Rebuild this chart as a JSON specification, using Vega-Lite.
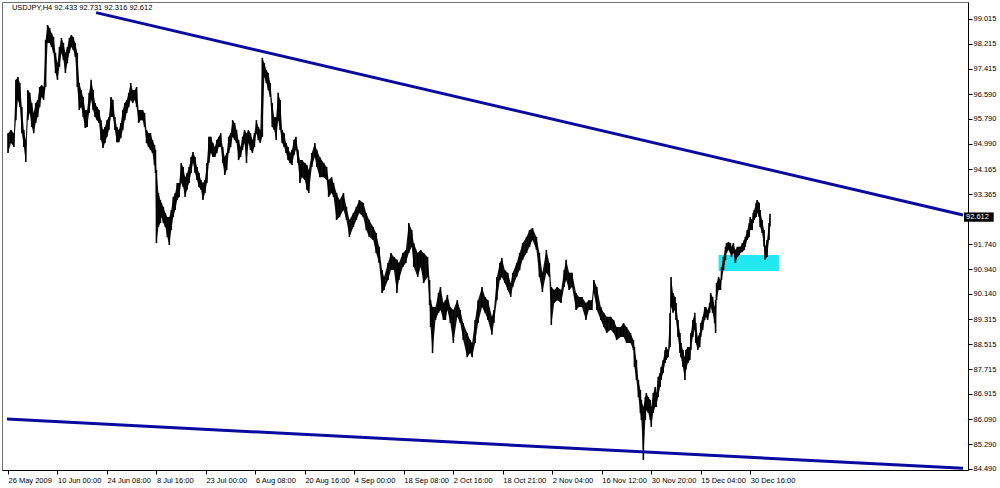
{
  "$schema": "https://vega.github.io/schema/vega-lite/v6.json",
  "width": 966,
  "height": 468,
  "autosize": {"type": "none"},
  "padding": {"left": 2, "top": 2, "right": 32, "bottom": 18},
  "background": "white",
  "config": {
    "view": {"stroke": "#707070", "strokeWidth": 1},
    "font": "Liberation Sans",
    "axis": {"labelFont": "Liberation Sans", "labelFontSize": 7.5, "labelColor": "#000000", "tickColor": "#000000", "domainColor": "#000000", "grid": false, "title": null, "labelOverlap": false, "labelFlush": false, "labelBound": false}
  },
  "datasets": {
    "bars": [
      {"t":3,"h":95.33,"l":94.69},{"t":6,"h":95.43,"l":95.01},{"t":9,"h":95.33,"l":94.88},{"t":11,"h":97.05,"l":95.75},{"t":13,"h":97.14,"l":96.40},{"t":15,"h":96.95,"l":96.17},{"t":17,"h":96.17,"l":95.33},{"t":19,"h":95.43,"l":94.88},{"t":21,"h":95.11,"l":94.40},{"t":23,"h":96.72,"l":95.75},{"t":25,"h":96.63,"l":95.98},{"t":27,"h":96.30,"l":95.53},{"t":29,"h":95.98,"l":95.33},{"t":31,"h":96.30,"l":95.66},{"t":33,"h":96.40,"l":95.85},{"t":35,"h":96.82,"l":96.17},{"t":37,"h":96.88,"l":96.50},{"t":39,"h":96.82,"l":96.40},{"t":41,"h":98.34,"l":96.82},{"t":43,"h":98.82,"l":98.24},{"t":45,"h":98.72,"l":98.24},{"t":47,"h":98.56,"l":98.11},{"t":49,"h":98.43,"l":97.92},{"t":51,"h":97.92,"l":97.27},{"t":53,"h":97.59,"l":97.05},{"t":55,"h":98.11,"l":97.47},{"t":57,"h":98.40,"l":97.92},{"t":59,"h":98.24,"l":97.69},{"t":61,"h":97.92,"l":97.27},{"t":63,"h":98.11,"l":97.59},{"t":65,"h":98.40,"l":97.92},{"t":67,"h":98.50,"l":98.11},{"t":69,"h":98.43,"l":98.01},{"t":71,"h":98.24,"l":97.79},{"t":73,"h":97.92,"l":96.82},{"t":75,"h":96.95,"l":96.08},{"t":77,"h":96.72,"l":96.17},{"t":79,"h":96.50,"l":95.85},{"t":81,"h":96.08,"l":95.50},{"t":83,"h":96.08,"l":95.53},{"t":85,"h":96.63,"l":95.98},{"t":87,"h":97.05,"l":96.40},{"t":89,"h":96.72,"l":96.08},{"t":91,"h":96.30,"l":95.85},{"t":93,"h":96.17,"l":95.75},{"t":95,"h":96.08,"l":95.66},{"t":97,"h":95.75,"l":95.11},{"t":99,"h":95.43,"l":94.85},{"t":101,"h":95.53,"l":95.01},{"t":103,"h":95.75,"l":95.21},{"t":105,"h":95.85,"l":95.43},{"t":107,"h":96.50,"l":95.85},{"t":109,"h":96.40,"l":95.85},{"t":111,"h":95.85,"l":95.43},{"t":113,"h":95.53,"l":95.04},{"t":115,"h":95.43,"l":95.04},{"t":117,"h":95.66,"l":95.17},{"t":119,"h":96.08,"l":95.43},{"t":121,"h":96.30,"l":95.75},{"t":123,"h":96.40,"l":95.98},{"t":125,"h":96.63,"l":96.17},{"t":127,"h":96.95,"l":96.40},{"t":129,"h":96.72,"l":96.30},{"t":131,"h":96.72,"l":96.40},{"t":133,"h":96.82,"l":96.17},{"t":135,"h":96.08,"l":95.66},{"t":137,"h":96.08,"l":95.75},{"t":139,"h":96.08,"l":95.75},{"t":141,"h":95.98,"l":95.53},{"t":143,"h":95.43,"l":95.01},{"t":145,"h":95.33,"l":94.88},{"t":147,"h":95.33,"l":94.79},{"t":149,"h":95.11,"l":94.69},
      {"t":151,"h":94.95,"l":94.30},{"t":152,"h":94.79,"l":94.04},{"t":153,"h":94.14,"l":91.78},{"t":155,"h":93.40,"l":92.30},{"t":157,"h":93.17,"l":92.43},{"t":158,"h":93.08,"l":92.62},{"t":160,"h":92.95,"l":92.43},{"t":162,"h":92.75,"l":92.30},{"t":164,"h":92.62,"l":91.98},{"t":166,"h":92.62,"l":91.72},{"t":168,"h":92.85,"l":92.20},{"t":170,"h":93.27,"l":92.62},{"t":172,"h":93.40,"l":92.85},{"t":174,"h":93.72,"l":93.17},{"t":176,"h":93.72,"l":93.27},{"t":178,"h":94.37,"l":93.72},{"t":180,"h":94.24,"l":93.59},{"t":182,"h":93.91,"l":93.27},{"t":184,"h":94.04,"l":93.50},{"t":186,"h":94.24,"l":93.72},{"t":188,"h":94.56,"l":94.04},{"t":190,"h":94.72,"l":94.37},{"t":192,"h":94.56,"l":94.04},{"t":194,"h":94.24,"l":93.82},{"t":196,"h":94.04,"l":93.59},{"t":198,"h":93.82,"l":93.50},{"t":200,"h":93.72,"l":93.17},{"t":202,"h":93.82,"l":93.40},{"t":204,"h":94.37,"l":93.72},{"t":206,"h":95.21,"l":94.37},{"t":208,"h":95.21,"l":94.69},{"t":210,"h":95.01,"l":94.56},{"t":212,"h":94.88,"l":94.56},{"t":214,"h":95.11,"l":94.69},{"t":216,"h":95.21,"l":94.88},{"t":218,"h":95.33,"l":94.88},{"t":220,"h":94.88,"l":94.37},{"t":222,"h":94.56,"l":93.98},{"t":224,"h":94.69,"l":94.14},{"t":226,"h":95.21,"l":94.69},{"t":228,"h":95.33,"l":94.88},{"t":230,"h":95.75,"l":95.21},{"t":232,"h":95.66,"l":95.11},{"t":234,"h":95.43,"l":95.01},{"t":236,"h":95.11,"l":94.46},{"t":238,"h":94.88,"l":94.56},{"t":240,"h":95.21,"l":94.79},{"t":242,"h":95.43,"l":95.01},{"t":244,"h":95.33,"l":94.37},{"t":246,"h":95.43,"l":95.01},{"t":248,"h":95.33,"l":94.79},{"t":250,"h":95.11,"l":94.69},{"t":252,"h":95.33,"l":94.88},{"t":254,"h":95.75,"l":95.33},{"t":256,"h":95.53,"l":95.11},{"t":258,"h":95.43,"l":95.01},{"t":260,"h":97.76,"l":95.21},{"t":262,"h":97.59,"l":97.14},{"t":264,"h":97.37,"l":96.95},{"t":266,"h":97.27,"l":96.72},{"t":268,"h":96.95,"l":96.50},{"t":270,"h":96.30,"l":95.53},{"t":272,"h":95.85,"l":95.43},{"t":274,"h":95.85,"l":95.11},{"t":276,"h":96.63,"l":95.75},{"t":278,"h":96.40,"l":95.43},{"t":280,"h":95.43,"l":95.01},{"t":282,"h":95.33,"l":94.88},{"t":284,"h":95.01,"l":94.69},{"t":286,"h":94.88,"l":94.46},{"t":288,"h":94.69,"l":94.37},{"t":290,"h":94.79,"l":94.30},{"t":292,"h":95.11,"l":94.62},{"t":294,"h":95.21,"l":94.79},{"t":296,"h":94.79,"l":94.37},{"t":298,"h":94.46,"l":93.72},
      {"t":300,"h":94.46,"l":93.91},{"t":303,"h":94.37,"l":93.82},{"t":305,"h":94.30,"l":93.50},{"t":307,"h":94.14,"l":93.40},{"t":310,"h":94.69,"l":94.24},{"t":313,"h":95.01,"l":94.56},{"t":315,"h":94.79,"l":94.24},{"t":318,"h":94.56,"l":93.91},{"t":322,"h":94.37,"l":93.91},{"t":325,"h":94.24,"l":93.82},{"t":327,"h":93.82,"l":93.27},{"t":330,"h":93.91,"l":93.40},{"t":332,"h":93.72,"l":93.27},{"t":335,"h":93.40,"l":92.53},{"t":338,"h":93.17,"l":92.62},{"t":342,"h":93.40,"l":92.85},{"t":345,"h":92.95,"l":92.53},{"t":348,"h":92.53,"l":91.98},{"t":352,"h":92.75,"l":92.30},{"t":355,"h":92.95,"l":92.53},{"t":358,"h":93.17,"l":92.75},{"t":362,"h":93.08,"l":92.62},{"t":365,"h":92.75,"l":92.20},{"t":368,"h":92.53,"l":91.98},{"t":372,"h":92.30,"l":91.88},{"t":375,"h":92.11,"l":91.46},{"t":378,"h":91.66,"l":91.14},{"t":381,"h":90.91,"l":90.17},{"t":383,"h":90.69,"l":90.27},{"t":387,"h":91.14,"l":90.59},{"t":390,"h":91.46,"l":90.91},{"t":393,"h":91.33,"l":90.91},{"t":396,"h":91.24,"l":90.17},{"t":398,"h":91.14,"l":90.59},{"t":402,"h":91.46,"l":91.01},{"t":405,"h":91.56,"l":91.14},{"t":408,"h":92.43,"l":91.46},{"t":411,"h":92.20,"l":91.66},{"t":413,"h":91.78,"l":91.01},{"t":417,"h":91.46,"l":90.69},{"t":420,"h":91.56,"l":91.01},{"t":423,"h":91.46,"l":90.49},{"t":427,"h":91.33,"l":90.69},{"t":429,"h":90.59,"l":89.78},{"t":430,"h":89.94,"l":89.07},{"t":432,"h":89.72,"l":88.23},{"t":435,"h":89.72,"l":89.30},{"t":438,"h":90.17,"l":89.53},{"t":440,"h":90.36,"l":89.62},{"t":443,"h":89.85,"l":89.30},{"t":445,"h":89.94,"l":89.30},{"t":447,"h":90.11,"l":89.62},{"t":450,"h":89.72,"l":89.20},{"t":453,"h":89.62,"l":88.56},{"t":457,"h":89.94,"l":89.40},{"t":460,"h":89.62,"l":89.20},{"t":463,"h":89.20,"l":88.65},{"t":467,"h":88.88,"l":88.10},{"t":470,"h":88.65,"l":88.23},{"t":472,"h":88.56,"l":88.10},{"t":475,"h":89.30,"l":88.56},{"t":478,"h":89.94,"l":89.20},{"t":482,"h":90.36,"l":89.72},{"t":485,"h":90.04,"l":89.53},{"t":488,"h":89.94,"l":89.30},{"t":492,"h":89.40,"l":88.82},{"t":494,"h":89.62,"l":89.20},{"t":497,"h":90.69,"l":89.94},{"t":500,"h":91.14,"l":90.59},{"t":502,"h":91.30,"l":90.69},{"t":505,"h":90.91,"l":90.49},{"t":508,"h":90.82,"l":90.27},{"t":511,"h":90.49,"l":90.04},{"t":513,"h":90.82,"l":90.36},{"t":517,"h":91.14,"l":90.69},{"t":520,"h":91.46,"l":90.91},{"t":523,"h":91.78,"l":91.24},{"t":527,"h":91.98,"l":91.46},{"t":530,"h":92.20,"l":91.66},{"t":533,"h":92.27,"l":91.88},{"t":537,"h":91.98,"l":91.56},{"t":540,"h":91.46,"l":90.69},{"t":543,"h":90.82,"l":90.20},{"t":547,"h":91.56,"l":90.82},{"t":550,"h":91.14,"l":90.69},{"t":552,"h":90.36,"l":89.14},{"t":555,"h":90.27,"l":89.85},{"t":558,"h":90.36,"l":89.94},{"t":562,"h":90.27,"l":89.85},{"t":565,"h":90.91,"l":90.36},{"t":567,"h":91.24,"l":90.59},{"t":570,"h":90.82,"l":90.27},{"t":573,"h":90.82,"l":90.36},{"t":577,"h":90.17,"l":89.62},{"t":580,"h":90.04,"l":89.72},{"t":583,"h":90.04,"l":89.72},{"t":587,"h":89.85,"l":89.30},{"t":590,"h":89.94,"l":89.62},{"t":593,"h":89.94,"l":89.62},{"t":595,"h":90.59,"l":90.17},{"t":598,"h":90.36,"l":89.62},{"t":602,"h":89.72,"l":89.30},{"t":605,"h":89.53,"l":89.07},{"t":608,"h":89.40,"l":88.88},{"t":612,"h":89.40,"l":88.98},{"t":615,"h":89.30,"l":88.88},{"t":618,"h":89.07,"l":88.65},{"t":622,"h":89.07,"l":88.75},{"t":625,"h":89.20,"l":88.75},{"t":628,"h":89.07,"l":88.56},{"t":632,"h":88.88,"l":88.56},{"t":635,"h":88.65,"l":88.33},{"t":636,"h":88.43,"l":87.78},{"t":638,"h":88.01,"l":87.36},
      {"t":640,"h":87.36,"l":86.81},{"t":642,"h":87.04,"l":86.30},{"t":643,"h":86.72,"l":86.07},{"t":645,"h":86.49,"l":84.78},{"t":647,"h":86.81,"l":86.07},{"t":648,"h":86.94,"l":86.39},{"t":650,"h":86.81,"l":86.30},{"t":652,"h":86.72,"l":86.07},{"t":653,"h":86.49,"l":85.85},{"t":655,"h":86.94,"l":86.30},{"t":657,"h":87.14,"l":86.49},{"t":658,"h":86.94,"l":86.49},{"t":660,"h":87.46,"l":86.81},{"t":662,"h":87.59,"l":87.14},{"t":663,"h":87.78,"l":87.36},{"t":665,"h":88.01,"l":87.59},{"t":667,"h":88.33,"l":87.91},{"t":668,"h":88.43,"l":88.01},{"t":670,"h":88.33,"l":88.10},{"t":672,"h":89.53,"l":88.43},{"t":673,"h":90.69,"l":89.72},{"t":675,"h":90.17,"l":89.53},{"t":677,"h":90.04,"l":89.62},{"t":678,"h":89.85,"l":89.30},{"t":680,"h":89.30,"l":88.75},{"t":682,"h":88.88,"l":88.23},{"t":683,"h":88.56,"l":88.10},{"t":685,"h":88.33,"l":87.78},{"t":687,"h":88.10,"l":87.36},{"t":688,"h":88.33,"l":87.69},{"t":690,"h":88.43,"l":87.91},{"t":692,"h":88.43,"l":88.01},{"t":693,"h":88.88,"l":88.33},{"t":695,"h":89.30,"l":88.75},{"t":697,"h":89.53,"l":88.98},{"t":698,"h":89.20,"l":88.56},{"t":700,"h":88.75,"l":88.33},{"t":702,"h":88.88,"l":88.43},{"t":703,"h":89.20,"l":88.75},{"t":705,"h":89.40,"l":88.98},{"t":707,"h":89.72,"l":89.30},{"t":708,"h":89.72,"l":89.40},{"t":710,"h":89.62,"l":89.30},{"t":712,"h":89.85,"l":89.53},{"t":713,"h":90.17,"l":89.72},{"t":715,"h":90.04,"l":89.53},{"t":717,"h":89.72,"l":89.20},{"t":718,"h":89.94,"l":88.88},{"t":719,"h":90.49,"l":89.94},{"t":721,"h":90.69,"l":90.27},{"t":723,"h":90.59,"l":90.27},{"t":724,"h":91.01,"l":90.59},{"t":726,"h":91.33,"l":90.91},{"t":728,"h":91.66,"l":91.24},{"t":729,"h":91.78,"l":91.46},{"t":731,"h":91.82,"l":91.56},{"t":733,"h":91.78,"l":91.46},{"t":734,"h":91.66,"l":91.33},{"t":736,"h":91.78,"l":91.46},{"t":738,"h":91.56,"l":91.14},{"t":740,"h":91.66,"l":91.33},{"t":742,"h":91.66,"l":91.40},{"t":743,"h":91.66,"l":91.46},{"t":745,"h":91.78,"l":91.49},{"t":747,"h":91.88,"l":91.56},{"t":748,"h":91.98,"l":91.66},{"t":750,"h":92.20,"l":91.88},{"t":752,"h":92.43,"l":91.98},{"t":753,"h":92.62,"l":92.20},{"t":755,"h":92.53,"l":92.20},{"t":756,"h":92.75,"l":92.43},{"t":757,"h":92.85,"l":92.53},{"t":759,"h":93.08,"l":92.62},{"t":760,"h":93.17,"l":92.75},{"t":762,"h":93.08,"l":92.62},{"t":763,"h":92.85,"l":92.30},{"t":765,"h":92.53,"l":92.11},{"t":767,"h":92.20,"l":91.66},{"t":768,"h":91.66,"l":91.24},{"t":770,"h":91.88,"l":91.33},{"t":772,"h":92.43,"l":91.88},{"t":773,"h":92.731,"l":92.316}
    ],
    "trend": [
      {"line":"upper","t":92,"p":99.22},{"line":"upper","t":968,"p":92.69},
      {"line":"lower","t":2,"p":86.10},{"line":"lower","t":968,"p":84.51}
    ],
    "zone": [{"t1":721,"t2":782,"p1":91.40,"p2":90.88}],
    "header": [{"t":7,"p":99.37,"text":"USDJPY,H4  92.433 92.731 92.316 92.612"}],
    "last": [{"t1":969,"t2":999,"hi":92.77,"lo":92.47,"tx":971,"close":92.612,"label":"92.612"}]
  },
  "encoding": {
    "x": {"type": "quantitative", "scale": {"domain": [2, 968], "nice": false, "zero": false},
      "axis": {"orient": "bottom", "values": [3,53,103,153,203,253,303,353,403,453,503,553,603,653,703,753], "tickSize": 4, "labelAlign": "left", "labelBaseline": "top", "labelPadding": 2, "labelFlush": false, "labelOverlap": false, "labelBound": false,
        "labelExpr": "['26 May 2009','10 Jun 00:00','24 Jun 08:00','8 Jul 16:00','23 Jul 00:00','6 Aug 08:00','20 Aug 16:00','4 Sep 00:00','18 Sep 08:00','2 Oct 16:00','18 Oct 21:00','2 Nov 04:00','16 Nov 12:00','30 Nov 20:00','15 Dec 04:00','30 Dec 16:00'][round((datum.value-3)/50)]"}},
    "y": {"type": "quantitative", "scale": {"domain": [84.457, 99.563], "nice": false, "zero": false},
      "axis": {"orient": "right", "values": [99.015,98.215,97.415,96.59,95.79,94.99,94.165,93.365,91.74,90.94,90.14,89.315,88.515,87.715,86.915,86.09,85.29,84.49], "format": ".3f", "tickSize": 4, "labelPadding": 1, "labelBaseline": "middle", "labelFlush": false, "labelOverlap": false, "labelBound": false}}
  },
  "layer": [
    {
      "data": {"name": "zone"},
      "mark": {"type": "rect", "color": "#22e8f2"},
      "encoding": {
        "x": {"field": "t1"},
        "x2": {"field": "t2"},
        "y": {"field": "p1"},
        "y2": {"field": "p2"}
      }
    },
    {
      "data": {"name": "bars"},
      "mark": {"type": "area", "color": "#111111", "opacity": 1, "interpolate": "linear"},
      "encoding": {
        "x": {"field": "t"},
        "y": {"field": "h"},
        "y2": {"field": "l"}
      }
    },
    {
      "data": {"name": "bars"},
      "mark": {"type": "bar", "orient": "vertical", "size": 1.6, "color": "#000000"},
      "encoding": {
        "x": {"field": "t"},
        "y": {"field": "h"},
        "y2": {"field": "l"}
      }
    },
    {
      "data": {"name": "trend"},
      "mark": {"type": "line", "color": "#0a0aa0", "strokeWidth": 3},
      "encoding": {
        "x": {"field": "t"},
        "y": {"field": "p"},
        "detail": {"field": "line"}
      }
    },
    {
      "data": {"name": "header"},
      "mark": {"type": "text", "align": "left", "baseline": "middle", "fontSize": 7.5, "color": "#000000", "font": "Liberation Sans"},
      "encoding": {
        "x": {"field": "t"},
        "y": {"field": "p"},
        "text": {"field": "text"}
      }
    },
    {
      "data": {"name": "last"},
      "mark": {"type": "rect", "color": "#000000"},
      "encoding": {
        "x": {"field": "t1"},
        "x2": {"field": "t2"},
        "y": {"field": "hi"},
        "y2": {"field": "lo"}
      }
    },
    {
      "data": {"name": "last"},
      "mark": {"type": "text", "align": "left", "baseline": "middle", "fontSize": 7.5, "color": "#ffffff", "font": "Liberation Sans"},
      "encoding": {
        "x": {"field": "tx"},
        "y": {"field": "close"},
        "text": {"field": "label"}
      }
    }
  ]
}
